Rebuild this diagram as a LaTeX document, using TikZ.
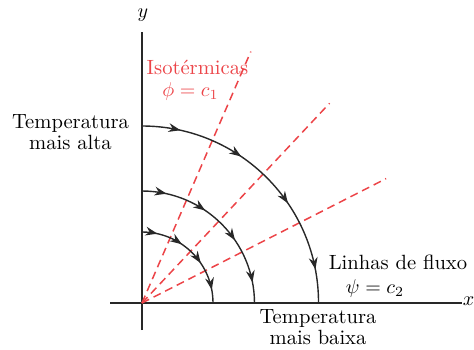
\documentclass[tikz,border=0pt]{standalone}
\usetikzlibrary{arrows.meta,decorations.markings}
\definecolor{isored}{RGB}{236,68,72}
\definecolor{ink}{RGB}{40,40,40}
\begin{document}
\begin{tikzpicture}[x=0.5pt,y=0.5pt,
  axis/.style={draw=ink,line width=0.75pt},
  flow/.style={draw=ink,line width=0.7pt,postaction={decorate},
    decoration={markings,
      mark=at position 0.14 with {\arrow{Stealth[length=6pt,width=4.4pt]}},
      mark=at position 0.38 with {\arrow{Stealth[length=6pt,width=4.4pt]}},
      mark=at position 0.62 with {\arrow{Stealth[length=6pt,width=4.4pt]}},
      mark=at position 0.88 with {\arrow{Stealth[length=6pt,width=4.4pt]}}}},
  iso/.style={draw=isored,line width=0.75pt,dash pattern=on 4pt off 2.5pt},
  lbl/.style={font=\fontsize{10.3}{10.5}\selectfont,align=center,inner sep=0pt},
  redlbl/.style={lbl,text=isored}]
\useasboundingbox (-142,-46) rectangle (332,303);
\coordinate (O) at (0,0);
% axes
\coordinate (xl) at (-32,0);
\coordinate (xr) at (320,0);
\coordinate (yb) at (0,-27);
\coordinate (yt) at (0,271);
\draw[axis] (xl) -- (xr);
\draw[axis] (yb) -- (yt);
\node[lbl] (ylab) at (1,288) {$y$};
\node[lbl] (xlab) at (326.5,2) {$x$};
% isotherms
\coordinate (d1) at (66.6:274);
\coordinate (d2) at (46.8:274);
\coordinate (d3) at (27:274);
\draw[iso] (O) -- (d1);
\draw[iso] (O) -- (d2);
\draw[iso] (O) -- (d3);
% flow lines
\coordinate (a1) at (0,177);
\coordinate (a2) at (0,112);
\coordinate (a3) at (0,71);
\draw[flow] (a1) arc[start angle=90,end angle=0,radius=176.5];
\draw[flow] (a2) arc[start angle=90,end angle=0,radius=112.5];
\draw[flow] (a3) arc[start angle=90,end angle=0,radius=71];
% labels
\node[lbl] (hot) at (-71.5,171) {Temperatura\\mais alta};
\node[lbl] (cold) at (176,-24) {Temperatura\\mais baixa};
\node[lbl] (flux) at (256,41) {Linhas de fluxo};
\node[lbl] (psi) at (233,15) {$\psi = c_2$};
\node[redlbl] (isot) at (55.5,236) {Isotérmicas};
\node[redlbl] (phi) at (48.5,212) {$\phi = c_1$};
\end{tikzpicture}
\end{document}
